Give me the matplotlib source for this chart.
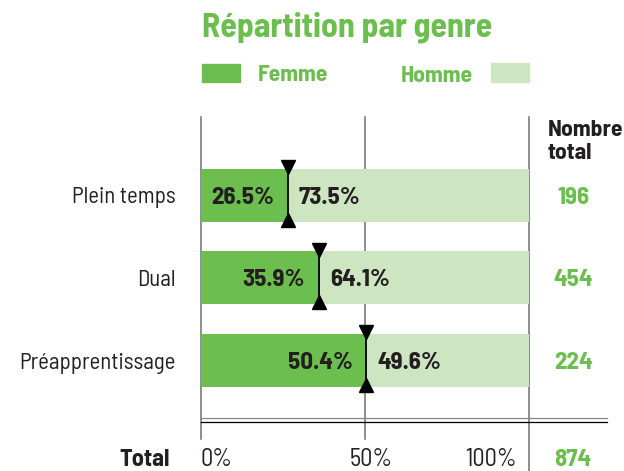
import numpy as np
import matplotlib
matplotlib.use("Agg")
import matplotlib.pyplot as plt
import matplotlib.transforms as mtransforms
from matplotlib.patches import Rectangle

plt.rcParams['font.family'] = ['Barlow Semi Condensed', 'Liberation Sans Narrow', 'DejaVu Sans']

# data
categories = ['Plein temps', 'Dual', 'Préapprentissage']
femme = [26.5, 35.9, 50.4]
homme = [73.5, 64.1, 49.6]
nombre = [196, 454, 224]
ticks = [0, 50, 100]

GREEN = '#6cbf4f'
LIGHT = '#cde5c0'
DARK = '#231f20'
GRID = '#6f6f6f'

W, H = 624, 471
fig = plt.figure(figsize=(W / 100, H / 100), dpi=100)

# overlay in pixel coordinates for decorations
deco = fig.add_axes([0, 0, 1, 1])
deco.set_xlim(0, W)
deco.set_ylim(H, 0)
deco.axis('off')

# data axes: 0..100 % spans pixels 201..529, rows every 82.5 px from 195.5
x0, x100 = 201, 529
pxu = (x100 - x0) / 100.0
row0, rowstep = 195.5, 82.5
ax = fig.add_axes([0, 0, 1, 1], facecolor='none')
ax.set_xlim(-x0 / pxu, (W - x0) / pxu)
ax.set_ylim((H - row0) / rowstep, -row0 / rowstep)
for s in ax.spines.values():
    s.set_visible(False)
ax.spines['left'].set_position(('data', 0))
ax.set_xticks([])

y = np.arange(len(categories))
bar_h = 53 / rowstep
ax.barh(y, femme, height=bar_h, color=GREEN, zorder=2)
ax.barh(y, homme, left=femme, height=bar_h, color=LIGHT, zorder=2)

ax.set_yticks(y, labels=categories)
ax.tick_params(axis='y', length=0, pad=(x0 - 176) * 0.72, labelsize=16.4, labelcolor=DARK)

# x in data, y in pixels
blend = mtransforms.blended_transform_factory(ax.transData, deco.transData)

# vertical reference lines
for t in ticks:
    bottom = H if t == 100 else 439
    ax.plot([t, t], [117, bottom], color=GRID, lw=1.1, transform=blend, zorder=1)

# double rule above total
ax.plot([0, (607 - x0) / pxu], [418, 418], color='#888888', lw=0.9, transform=blend)
ax.plot([0, (607 - x0) / pxu], [421.5, 421.5], color='black', lw=0.9, transform=blend)

# boundary markers
for yi, f, h in zip(y, femme, homme):
    top = yi - bar_h / 2
    bot = yi + bar_h / 2
    ax.plot([f, f], [top, bot], color='black', lw=1.3, zorder=3)
    ax.plot([f], [top - 0.02], marker='v', ms=10, color='black', zorder=4, clip_on=False)
    ax.plot([f], [bot - 0.03], marker='^', ms=10, color='black', zorder=4, clip_on=False)
    ax.annotate(f'{f:.1f}%', (f, yi), xytext=(-10, 0), textcoords='offset points',
                ha='right', va='center_baseline', fontsize=18, fontweight='bold', color=DARK, zorder=5)
    ax.annotate(f'{h:.1f}%', (f, yi), xytext=(8, 0), textcoords='offset points',
                ha='left', va='center_baseline', fontsize=18, fontweight='bold', color=DARK, zorder=5)

# column of totals
for yi, n in zip(y, nombre):
    ax.text((573 - x0) / pxu, yi, str(n), ha='center', va='center_baseline',
            fontsize=18, fontweight='bold', color=GREEN)

# bottom row
base = 465.5
ax.text(0, base, '0%', transform=blend, ha='left', va='baseline', fontsize=17.5, color=DARK)
ax.text(50 + 6 / pxu, base, '50%', transform=blend, ha='center', va='baseline', fontsize=17.5, color=DARK)
ax.text(100 - 12 / pxu, base, '100%', transform=blend, ha='right', va='baseline', fontsize=17.5, color=DARK)
deco.text(170, base, 'Total', ha='right', va='baseline', fontsize=17.5, fontweight='bold', color=DARK)
deco.text(573, base, str(sum(nombre)), ha='center', va='baseline', fontsize=18,
          fontweight='bold', color=GREEN)

# header
deco.text(548, 136, 'Nombre', ha='left', va='baseline', fontsize=17, fontweight='bold', color=DARK)
deco.text(548, 159, 'total', ha='left', va='baseline', fontsize=17, fontweight='bold', color=DARK)

# title and legend
deco.text(202, 36.7, 'Répartition par genre', ha='left', va='baseline', fontsize=24.3,
          fontweight='bold', color=GREEN)
deco.add_patch(Rectangle((202, 64), 38, 18.3, color=GREEN))
deco.add_patch(Rectangle((491, 63), 38, 19, color=LIGHT))
deco.text(258, 81, 'Femme', ha='left', va='baseline', fontsize=17, fontweight='bold', color=GREEN)
deco.text(473, 82, 'Homme', ha='right', va='baseline', fontsize=17, fontweight='bold', color=GREEN)

fig.savefig('out.png', dpi=100)
